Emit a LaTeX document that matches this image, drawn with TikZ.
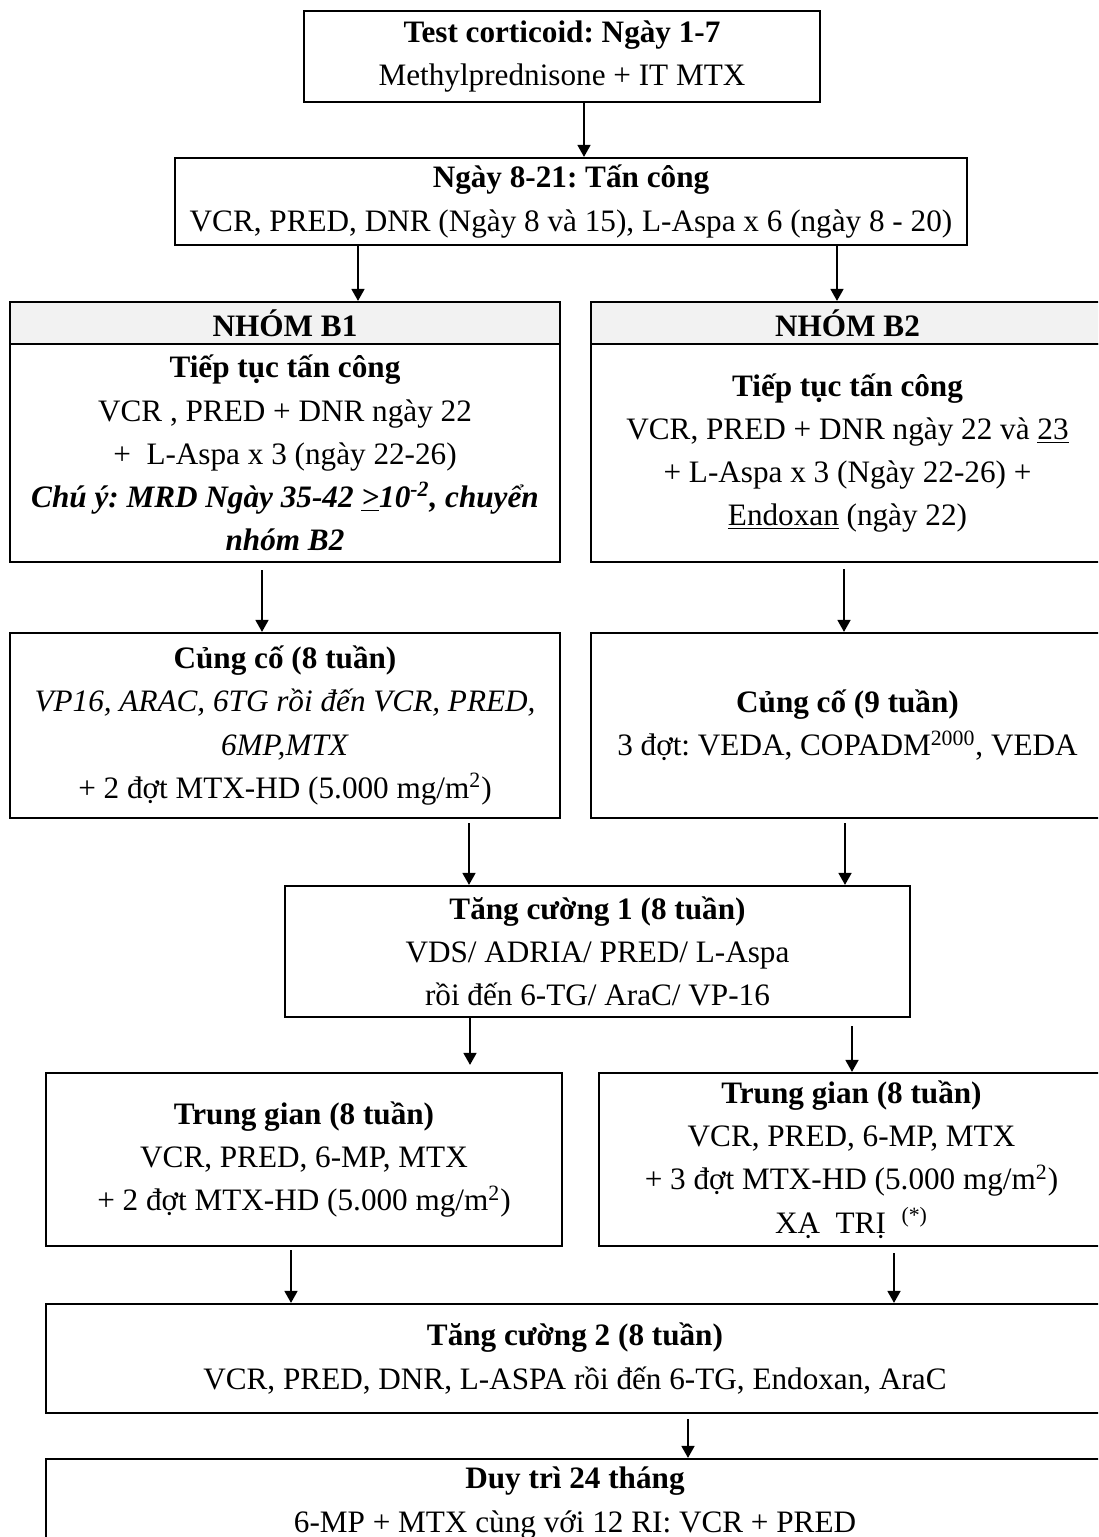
\documentclass[tikz,border=0pt]{standalone}
\usepackage{fontspec}
\setmainfont{Liberation Serif}
\usetikzlibrary{arrows.meta}
\definecolor{hdrgray}{HTML}{F2F2F2}
\frenchspacing
\tikzset{
  box/.style={draw, line width=1.1pt, inner sep=0pt, align=center,
    font=\frenchspacing\fontsize{15.6pt}{21.6pt}\selectfont},
  hdr/.style={box, fill=hdrgray},
  arr/.style={line width=0.8pt, -{Triangle[length=6pt,width=6.5pt]}}
}
\begin{document}
\begin{tikzpicture}[x=0.5pt, y=-0.5pt]
\useasboundingbox (0,0) rectangle (1098,1537);
\clip (0,0) rectangle (1098,1537);

% boxes
\node[box, minimum width=258pt, minimum height=45.5pt] (box1) at (562,56.5)
  {\textbf{Test corticoid: Ngày 1-7}\\Methylprednisone + IT MTX};
\node[box, minimum width=396pt, minimum height=43.5pt] (box2) at (571,201.5)
  {\textbf{Ngày 8-21: Tấn công}\\VCR, PRED, DNR (Ngày 8 và 15), L-Aspa x 6 (ngày 8 - 20)};

\node[box, minimum width=275pt, minimum height=109pt] (b1) at (285,453)
  {\textbf{Tiếp tục tấn công}\\VCR , PRED + DNR ngày 22\\+\ \ L-Aspa x 3 (ngày 22-26)\\
   \textbf{\textit{Chú ý: MRD Ngày 35-42 \underline{>}10\textsuperscript{-2}, chuyển}}\\
   \textbf{\textit{nhóm B2}}};
\node[hdr, minimum width=275pt, minimum height=21pt] (h1) at (285,323) {\textbf{NHÓM B1}};

\node[box, minimum width=256.5pt, minimum height=109pt] (b2) at (847.5,453)
  {\textbf{Tiếp tục tấn công}\\VCR, PRED + DNR ngày 22 và \underline{23}\\+ L-Aspa x 3 (Ngày 22-26) +\\
   \underline{Endoxan} (ngày 22)};
\node[hdr, minimum width=256.5pt, minimum height=21pt] (h2) at (847.5,323) {\textbf{NHÓM B2}};

\node[box, minimum width=275pt, minimum height=92.5pt] (cc8) at (285,725.5)
  {\textbf{Củng cố (8 tuần)}\\\textit{VP16, ARAC, 6TG rồi đến VCR, PRED,}\\\textit{6MP,MTX}\\
   + 2 đợt MTX-HD (5.000 mg/m\textsuperscript{2})};
\node[box, minimum width=256.5pt, minimum height=92.5pt] (cc9) at (847.5,725.5)
  {\textbf{Củng cố (9 tuần)}\\3 đợt: VEDA, COPADM\textsuperscript{2000}, VEDA};

\node[box, minimum width=312.5pt, minimum height=65.5pt] (tc1) at (597.5,951.5)
  {\textbf{Tăng cường 1 (8 tuần)}\\VDS/ ADRIA/ PRED/ L-Aspa\\rồi đến 6-TG/ AraC/ VP-16};

\node[box, minimum width=258pt, minimum height=86.5pt] (tgl) at (304,1159.5)
  {\textbf{Trung gian (8 tuần)}\\VCR, PRED, 6-MP, MTX\\+ 2 đợt MTX-HD (5.000 mg/m\textsuperscript{2})};
\node[box, minimum width=252.5pt, minimum height=86.5pt] (tgr) at (851.5,1159.5)
  {\textbf{Trung gian (8 tuần)}\\VCR, PRED, 6-MP, MTX\\+ 3 đợt MTX-HD (5.000 mg/m\textsuperscript{2})\\
   XẠ\ \ TRỊ\ \ \textsuperscript{(*)}};

\node[box, minimum width=529pt, minimum height=54.5pt] (tc2) at (575,1358.5)
  {\textbf{Tăng cường 2 (8 tuần)}\\VCR, PRED, DNR, L-ASPA rồi đến 6-TG, Endoxan, AraC};
\node[box, minimum width=529pt, minimum height=44pt] (dt) at (575,1503)
  {\textbf{Duy trì 24 tháng}\\6-MP + MTX cùng với 12 RI: VCR + PRED};

% arrow x positions
\coordinate (xa1) at (584,0);
\coordinate (xa2) at (358,0);
\coordinate (xa3) at (837,0);
\coordinate (xa4) at (262,0);
\coordinate (xa5) at (844,0);
\coordinate (xa6) at (469,0);
\coordinate (xa7) at (845,0);
\coordinate (xa8) at (470,0);
\coordinate (xa9) at (852,0);
\coordinate (xa10) at (291,0);
\coordinate (xa11) at (894,0);
\coordinate (xa12) at (688,0);

\draw[arr] (box1.south -| xa1) -- (box2.north -| xa1);
\draw[arr] (box2.south -| xa2) -- (h1.north -| xa2);
\draw[arr] (box2.south -| xa3) -- (h2.north -| xa3);
\draw[arr, shorten <=3.5pt] (b1.south -| xa4) -- (cc8.north -| xa4);
\draw[arr, shorten <=3pt] (b2.south -| xa5) -- (cc9.north -| xa5);
\draw[arr, shorten <=2pt] (cc8.south -| xa6) -- (tc1.north -| xa6);
\draw[arr, shorten <=2pt] (cc9.south -| xa7) -- (tc1.north -| xa7);
\draw[arr, shorten >=3.5pt] (tc1.south -| xa8) -- (tgl.north -| xa8);
\draw[arr, shorten <=4pt] (tc1.south -| xa9) -- (tgr.north -| xa9);
\draw[arr, shorten <=1.5pt] (tgl.south -| xa10) -- (tc2.north -| xa10);
\draw[arr, shorten <=3pt] (tgr.south -| xa11) -- (tc2.north -| xa11);
\draw[arr, shorten <=2.5pt] (tc2.south -| xa12) -- (dt.north -| xa12);
\end{tikzpicture}
\end{document}
